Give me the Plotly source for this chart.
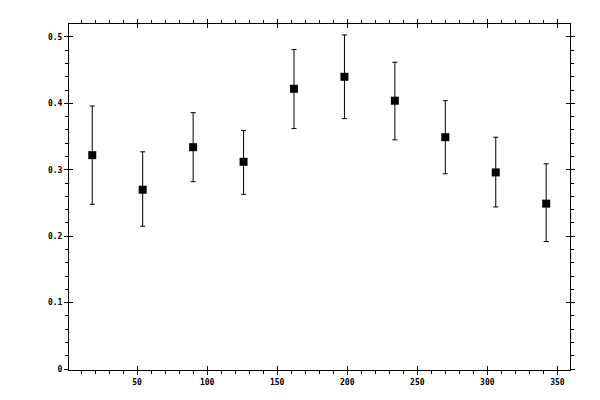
import plotly.graph_objects as go

angle = [18, 54, 90, 126, 162, 198, 234, 270, 306, 342]
value = [0.322, 0.270, 0.334, 0.312, 0.422, 0.440, 0.404, 0.349, 0.296, 0.249]
upper = [0.396, 0.327, 0.386, 0.359, 0.481, 0.503, 0.462, 0.404, 0.349, 0.309]
lower = [0.248, 0.215, 0.282, 0.263, 0.362, 0.377, 0.345, 0.294, 0.244, 0.192]

x_ticks = [50, 100, 150, 200, 250, 300, 350]
y_ticks = [0, 0.1, 0.2, 0.3, 0.4, 0.5]
y_labels = ["0", "0.1", "0.2", "0.3", "0.4", "0.5"]

err_plus = [u - v for u, v in zip(upper, value)]
err_minus = [v - l for v, l in zip(value, lower)]

fig = go.Figure()
fig.add_trace(go.Scatter(
    x=angle, y=value, mode="markers",
    marker=dict(symbol="square", size=8, color="black"),
    error_y=dict(type="data", symmetric=False, array=err_plus, arrayminus=err_minus,
                 color="black", thickness=1, width=2.5),
    showlegend=False,
))
# invisible trace so the overlay axes (inner half of the major ticks) get drawn
fig.add_trace(go.Scatter(x=[None], y=[None], xaxis="x2", yaxis="y2", showlegend=False))

xr = [1.4, 359]
yr = [-0.0015, 0.5195]
font = dict(family="DejaVu Sans Mono", size=8, color="black", weight="bold")

# page has an 8px body margin, so margins are shifted to put the frame where the reference has it
fig.update_layout(
    width=600, height=400,
    margin=dict(l=61, r=38, t=11, b=38),
    paper_bgcolor="white", plot_bgcolor="white",
    xaxis=dict(range=xr, tickvals=x_ticks, ticks="outside", ticklen=4, tickwidth=1,
               tickcolor="black", showline=True, linecolor="black", linewidth=1,
               mirror="ticks", showgrid=False, zeroline=False, tickfont=font,
               minor=dict(dtick=10, tick0=0, ticks="outside", ticklen=3, tickcolor="black")),
    yaxis=dict(range=yr, tickvals=y_ticks, ticktext=y_labels, ticks="outside", ticklen=4,
               tickwidth=1, tickcolor="black", showline=True, linecolor="black", linewidth=1,
               mirror="ticks", showgrid=False, zeroline=False, tickfont=font,
               minor=dict(dtick=0.02, tick0=0, ticks="outside", ticklen=3, tickcolor="black")),
    xaxis2=dict(range=xr, overlaying="x", tickvals=x_ticks, ticks="inside", ticklen=4,
                tickcolor="black", mirror="ticks", showticklabels=False, showline=False,
                showgrid=False, zeroline=False),
    yaxis2=dict(range=yr, overlaying="y", tickvals=y_ticks, ticks="inside", ticklen=4,
                tickcolor="black", mirror="ticks", showticklabels=False, showline=False,
                showgrid=False, zeroline=False),
)

fig.write_html("out.html")
